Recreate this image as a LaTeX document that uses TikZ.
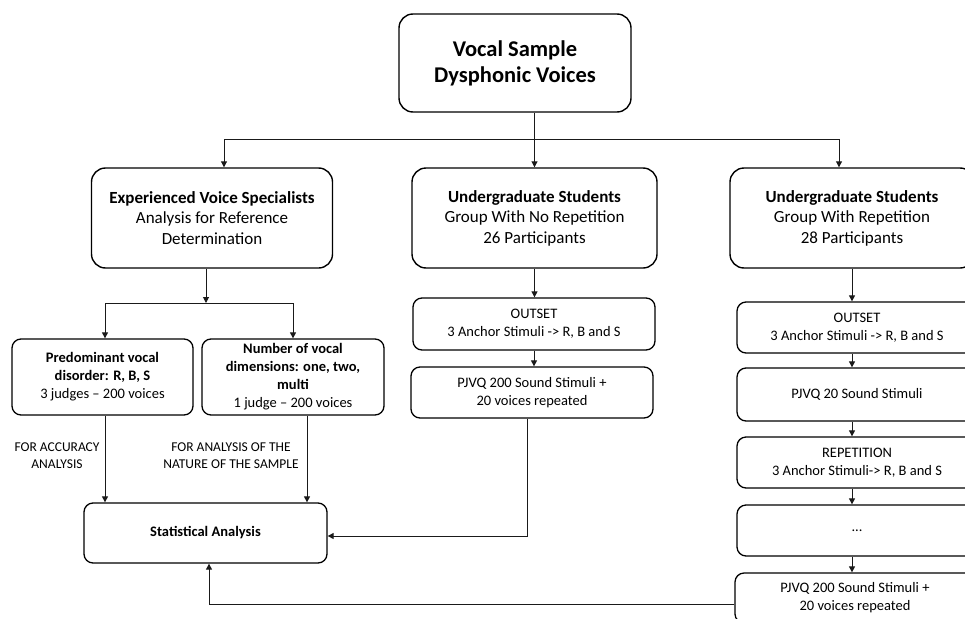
\documentclass[tikz,border=0pt]{standalone}
\usepackage{fontspec}
\setmainfont{Carlito}
\usepackage{tikz}
\usetikzlibrary{positioning,arrows.meta,calc}
\definecolor{ink}    {HTML}{000000}
\definecolor{wire}   {HTML}{1A1A1A}
\definecolor{paper}  {HTML}{FFFFFF}
\tikzset{
  % --- nodes
  box/.style    = {rounded corners=14pt, draw=ink, fill=paper, align=center,
                   line width=1.4pt, inner sep=4pt, text=ink,
                   font=\fontsize{17}{20.5}\selectfont},
  topbox/.style = {box, font=\fontsize{22.5}{26}\selectfont\bfseries},
  grpbox/.style = {box, minimum height=100pt},
  stepbox/.style= {box, rounded corners=9pt, line width=1.3pt,
                   font=\fontsize{14.5}{18}\selectfont},
  note/.style   = {align=center, text=ink, font=\fontsize{13.5}{17}\selectfont},
  % --- edges
  e/.style      = {-{Triangle[length=6pt,width=6pt]}, line width=1pt, draw=wire},
  line/.style   = {line width=1pt, draw=wire},
}
\begin{document}
\begin{tikzpicture}[x=1pt,y=-1pt]
  \useasboundingbox (0,0) rectangle (965,618);
  \clip (0,0) rectangle (965,618);

  % sample
  \node[topbox, minimum width=232pt, minimum height=98pt] (src) at (515,63)
    {Vocal Sample\\Dysphonic Voices};

  % three groups
  \node[grpbox, minimum width=241pt] (spec) at (212,218)
    {\textbf{Experienced Voice Specialists}\\Analysis for Reference\\Determination};
  \node[grpbox, minimum width=245pt] (grpA) at (534.5,218)
    {\textbf{Undergraduate Students}\\Group With No Repetition\\26 Participants};
  \node[grpbox, minimum width=244pt] (grpB) at (852,218)
    {\textbf{Undergraduate Students}\\Group With Repetition\\28 Participants};

  % reference analysis
  \node[stepbox, minimum width=181pt, minimum height=76pt] (pred) at (102.5,377)
    {\textbf{Predominant vocal}\\\textbf{disorder: R, B, S}\\3 judges -- 200 voices};
  \node[stepbox, minimum width=182pt, minimum height=76pt] (ndim) at (293,377)
    {\textbf{Number of vocal}\\\textbf{dimensions: one, two,}\\\textbf{multi}\\1 judge -- 200 voices};
  \node[stepbox, minimum width=243pt, minimum height=60pt,
        font=\fontsize{14.5}{18}\selectfont\bfseries] (stat) at (205.5,533)
    {Statistical Analysis};

  % no repetition
  \node[stepbox, minimum width=242pt, minimum height=52pt] (a1) at (534,324)
    {OUTSET\\3 Anchor Stimuli -> R, B and S};
  \node[stepbox, minimum width=242pt, minimum height=51pt] (a2) at (532,392.5)
    {PJVQ 200 Sound Stimuli +\\20 voices repeated};

  % with repetition
  \node[stepbox, minimum width=240pt, minimum height=51pt] (b1) at (857,327.5)
    {OUTSET\\3 Anchor Stimuli -> R, B and S};
  \node[stepbox, minimum width=240pt, minimum height=53pt] (b2) at (857,394.5)
    {PJVQ 20 Sound Stimuli};
  \node[stepbox, minimum width=240pt, minimum height=51pt] (b3) at (857,462.5)
    {REPETITION\\3 Anchor Stimuli-> R, B and S};
  \node[stepbox, minimum width=240pt, minimum height=51pt] (b4) at (857,530.5)
    {...};
  \node[stepbox, minimum width=240pt, minimum height=50pt] (b5) at (855,598)
    {PJVQ 200 Sound Stimuli +\\20 voices repeated};

  % side notes
  \node[note] (nacc) at (57,456) {FOR ACCURACY\\ANALYSIS};
  \node[note] (nnat) at (231,456) {FOR ANALYSIS OF THE\\NATURE OF THE SAMPLE};

  % bends
  \coordinate (forkL)  at (224,139);
  \coordinate (forkR)  at (839,139);
  \coordinate (specout) at (206,303);
  \coordinate (splitL) at (105,303);
  \coordinate (splitR) at (293,303);
  \coordinate (ndimout) at (307,0);
  \coordinate (bendA)  at (527,536);
  \coordinate (bendB)  at (209,604);

  \draw[e] (src.south -| grpA.north) -- (grpA.north);
  \draw[line] (forkL) -- (forkR);
  \draw[e] (forkL) -- (forkL |- spec.north);
  \draw[e] (forkR) -- (forkR |- grpB.north);

  \draw[e] (spec.south -| specout) -- (specout);
  \draw[line] (splitL) -- (splitR);
  \draw[e] (splitL) -- (splitL |- pred.north);
  \draw[e] (splitR) -- (splitR |- ndim.north);
  \draw[e] (pred.south -| splitL) -- (stat.north -| splitL);
  \draw[e] (ndim.south -| ndimout) -- (stat.north -| ndimout);

  \draw[e] (grpA.south) -- (grpA.south |- a1.north);
  \draw[e] (a1.south) -- (a1.south |- a2.north);
  \draw[e] (a2.south -| bendA) -- (bendA) -- (stat.east |- bendA);

  \draw[e] (grpB.south) -- (grpB.south |- b1.north);
  \draw[e] (b1.south -| grpB.south) -- (b2.north -| grpB.south);
  \draw[e] (b2.south -| grpB.south) -- (b3.north -| grpB.south);
  \draw[e] (b3.south -| grpB.south) -- (b4.north -| grpB.south);
  \draw[e] (b4.south -| grpB.south) -- (b5.north -| grpB.south);
  \draw[e] (b5.west |- bendB) -- (bendB) -- (stat.south -| bendB);
\end{tikzpicture}
\end{document}
